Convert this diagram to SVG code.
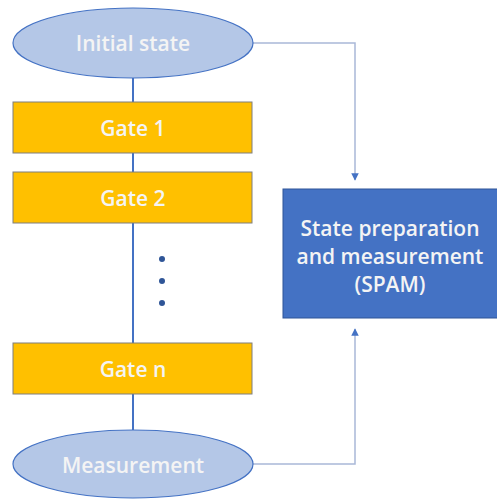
<svg xmlns="http://www.w3.org/2000/svg" width="497" height="499" viewBox="0 0 497 499">
<style>
.ell{fill:#b4c7e7;stroke:#4472c4;stroke-width:1.2}
.gate{fill:#ffc000;stroke:#7f7f7f;stroke-width:1}
.spam{fill:#4472c4;stroke:#2f5597;stroke-width:1}
.t{font-family:"Open Sans",sans-serif;font-size:21px;font-weight:600;fill:#f4f4f4;text-anchor:middle;dominant-baseline:central}
.main{stroke:#4472c4;stroke-width:2;fill:none}
.side{stroke:#a9b8d8;stroke-width:1.5;fill:none}
</style>
<defs>
<marker id="arr" viewBox="0 0 10 10" refX="9" refY="5" markerWidth="5" markerHeight="5" orient="auto-start-reverse">
<path d="M0,0 L10,5 L0,10 z" fill="#4472c4"/>
</marker>
</defs>
<rect width="497" height="499" fill="#ffffff"/>
<g id="connectors">
<line class="main" x1="133" y1="77" x2="133" y2="430"/>
<polyline class="side" points="252,43 355,43 355,180" marker-end="url(#arr)"/>
<polyline class="side" points="252,464 355,464 355,329" marker-end="url(#arr)"/>
<circle cx="162" cy="259" r="3" fill="#2f5597"/>
<circle cx="162" cy="281" r="3" fill="#2f5597"/>
<circle cx="162" cy="303" r="3" fill="#2f5597"/>
</g>
<g id="initial">
<ellipse class="ell" cx="133" cy="43" rx="120" ry="35"/>
<text class="t" x="133" y="43">Initial state</text>
</g>
<g id="gate1">
<rect class="gate" x="13" y="102" width="239" height="51"/>
<text class="t" x="133" y="128">Gate 1</text>
</g>
<g id="gate2">
<rect class="gate" x="13" y="172" width="239" height="51"/>
<text class="t" x="133" y="198">Gate 2</text>
</g>
<g id="gaten">
<rect class="gate" x="13" y="343" width="239" height="51"/>
<text class="t" x="133" y="369">Gate n</text>
</g>
<g id="measurement">
<ellipse class="ell" cx="133" cy="464" rx="120" ry="34"/>
<text class="t" x="133" y="465">Measurement</text>
</g>
<g id="spam">
<rect class="spam" x="283" y="189" width="216" height="129"/>
<text class="t" x="390" y="228">State preparation</text>
<text class="t" x="390" y="256">and measurement</text>
<text class="t" x="390" y="284">(SPAM)</text>
</g>
</svg>
